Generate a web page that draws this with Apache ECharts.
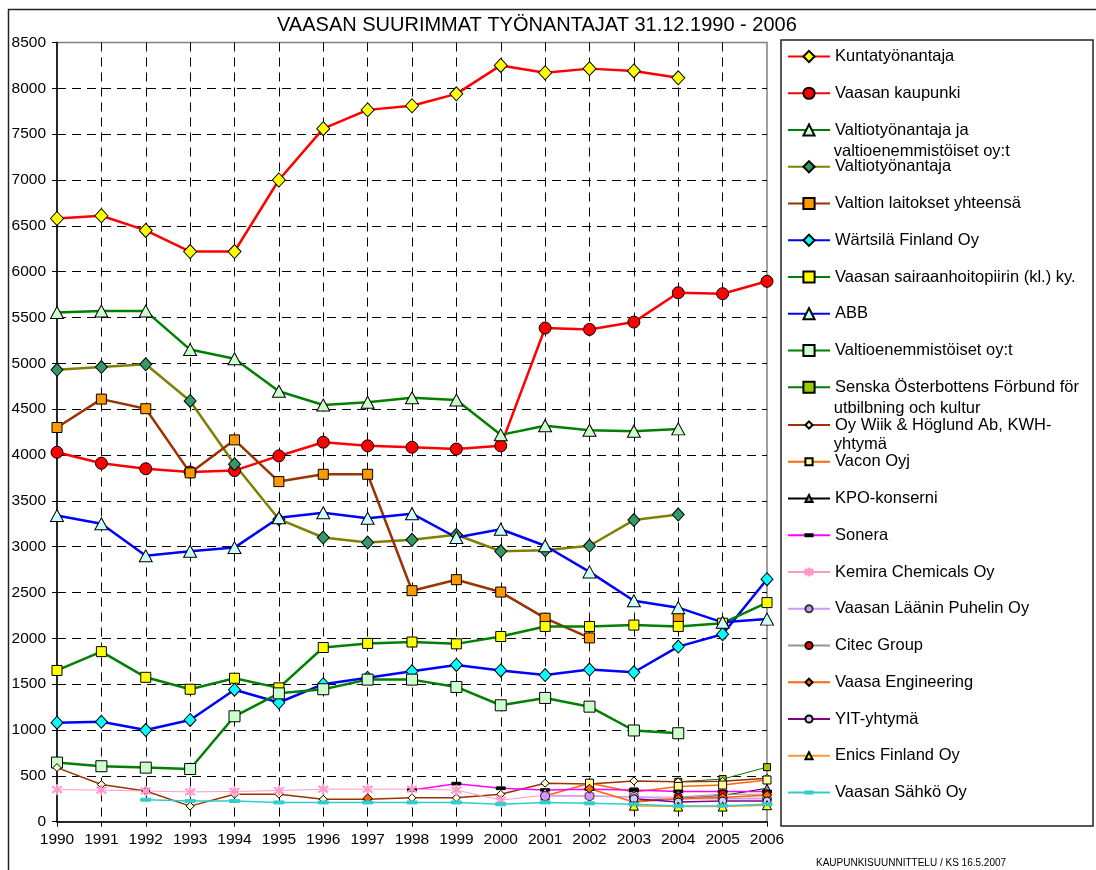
<!DOCTYPE html>
<html>
<head>
<meta charset="utf-8">
<title>Vaasan suurimmat työnantajat</title>
<script src="https://cdn.jsdelivr.net/npm/echarts@6/dist/echarts.min.js"></script>
<style>
html, body { margin: 0; padding: 0; background: #fff; }
#main { width: 1096px; height: 870px; }
</style>
</head>
<body>
<div id="main"></div>
<script>
var years = ['1990','1991','1992','1993','1994','1995','1996','1997','1998','1999','2000','2001','2002','2003','2004','2005','2006'];

// suuret työnantajat
var kuntatyonantaja     = [6580, 6610, 6450, 6220, 6220, 7000, 7560, 7765, 7810, 7940, 8250, 8170, 8215, 8190, 8115, null, null];
var vaasanKaupunki      = [4030, 3910, 3850, 3815, 3830, 3990, 4140, 4100, 4085, 4065, 4100, 5385, 5370, 5450, 5770, 5760, 5895];
var valtioJaEnemmisto   = [5555, 5570, 5570, 5150, 5050, 4695, 4545, 4575, 4625, 4600, 4220, 4320, 4270, 4260, 4285, null, null];
var valtiotyonantaja    = [4930, 4960, 4990, 4590, 3900, 3300, 3100, 3045, 3075, 3130, 2950, 2960, 3010, 3290, 3350, null, null];
var valtionLaitokset    = [4300, 4610, 4505, 3805, 4165, 3710, 3790, 3790, 2520, 2640, 2505, 2220, 2005, null, 2230, null, null];
var wartsila            = [1080, 1090, 1000, 1110, 1440, 1300, 1500, 1570, 1640, 1710, 1650, 1600, 1660, 1630, 1910, 2045, 2645];
var sairaanhoitopiiri   = [1650, 1855, 1575, 1445, 1565, 1460, 1900, 1945, 1960, 1940, 2020, 2130, 2130, 2145, 2130, 2165, 2390];
var abb                 = [3340, 3250, 2900, 2950, 2990, 3315, 3370, 3310, 3360, 3100, 3190, 3010, 2725, 2410, 2335, 2175, 2210];
var valtioenemmistoiset = [645, 605, 590, 575, 1150, 1400, 1445, 1550, 1550, 1470, 1270, 1350, 1255, 995, 965, null, null];

// pienet työnantajat
var senska           = [null, null, null, null, null, null, null, null, null, null, null, null, null, null, 435, 465, 595];
var wiik             = [590, 405, 335, 170, 300, 300, 245, 245, 260, 260, 300, 420, 410, 445, 435, 440, 475];
var vacon            = [null, null, null, null, null, null, null, null, null, null, null, 280, 420, 325, 385, 400, 455];
var kpo              = [null, null, null, null, null, null, null, null, null, null, null, null, null, 220, 255, 285, 365];
var sonera           = [null, null, null, null, null, null, null, null, 345, 415, 365, 345, 355, 345, 330, 330, 330];
var kemira           = [350, 345, 335, 325, 330, 340, 355, 355, 355, 345, 235, 290, 280, 270, 270, 270, 270];
var laaninPuhelin    = [null, null, null, null, null, null, null, null, null, null, null, 280, 280, 270, 250, 250, 250];
var citec            = [null, null, null, null, null, null, null, null, null, null, null, null, null, null, 270, 300, 300];
var vaasaEngineering = [null, null, null, null, null, null, null, 255, null, null, null, null, 360, 215, 250, 265, 290];
var yit              = [null, null, null, null, null, null, null, null, null, null, null, null, null, 250, 215, 225, 225];
var enics            = [null, null, null, null, null, null, null, null, null, null, null, null, null, 175, 165, 165, 180];
var vaasanSahko      = [null, null, 240, 225, 225, 210, 210, 210, 210, 210, 190, 210, 200, 190, 170, 175, 190];

var FONT = '"Liberation Sans", Arial, sans-serif';
var asterisk = 'path://M4.4,0L5.6,0L5.6,10L4.4,10Z M0.83,1.5L9.83,7.5L9.17,8.5L0.17,2.5Z M0.17,7.5L9.17,1.5L9.83,2.5L0.83,8.5Z';
var dash = 'path://M0,0M0,3.5L10,3.5L10,6.5L0,6.5ZM10,10';

function line(name, data, color, width, symbol, size, fill, border) {
	return {
		name: name,
		type: 'line',
		data: data,
		symbol: symbol,
		symbolSize: size,
		showAllSymbol: true,
		connectNulls: false,
		lineStyle: { color: color, width: width },
		itemStyle: { color: fill, borderColor: border || '#000', borderWidth: 1 },
		emphasis: { disabled: true },
		animation: false
	};
}

var series = [
	line('Kuntatyönantaja', kuntatyonantaja, '#FF0000', 2.5, 'diamond', [13, 14], '#FFFF00'),
	line('Vaasan kaupunki', vaasanKaupunki, '#FF0000', 2.5, 'circle', 12, '#FF0000'),
	line('Valtiotyönantaja ja', valtioJaEnemmisto, '#008000', 2.5, 'triangle', [13, 12], '#CCFFCC'),
	line('Valtiotyönantaja', valtiotyonantaja, '#808000', 2.5, 'diamond', [12, 13], '#339966'),
	line('Valtion laitokset yhteensä', valtionLaitokset, '#993300', 2.5, 'rect', 10, '#FF9900'),
	line('Wärtsilä Finland Oy', wartsila, '#0000FF', 2.5, 'diamond', [12, 13], '#00FFFF'),
	line('Vaasan sairaanhoitopiirin (kl.) ky.', sairaanhoitopiiri, '#008000', 2.5, 'rect', 10, '#FFFF00'),
	line('ABB', abb, '#0000FF', 2.5, 'triangle', [13, 12], '#CCFFFF'),
	line('Valtioenemmistöiset oy:t', valtioenemmistoiset, '#008000', 2.5, 'rect', 11, '#CCFFCC'),
	line('Senska Österbottens Förbund för', senska, '#008000', 1, 'rect', 7, '#99CC00'),
	line('Oy Wiik & Höglund Ab, KWH-', wiik, '#993300', 1.5, 'diamond', 8, '#FFFFCC'),
	line('Vacon Oyj', vacon, '#FF6600', 1.5, 'rect', 8, '#FFFF99'),
	line('KPO-konserni', kpo, '#000000', 1, 'triangle', 8, '#969696'),
	line('Sonera', sonera, '#FF00FF', 1.5, dash, 9, '#000000', '#000000'),
	line('Kemira Chemicals Oy', kemira, '#FF99CC', 1, asterisk, 10, '#FF99CC', '#FF99CC'),
	line('Vaasan Läänin Puhelin Oy', laaninPuhelin, '#CC99FF', 1.5, 'circle', 9, '#CC99FF', '#333333'),
	line('Citec Group', citec, '#969696', 1, 'circle', 8, '#FF0000'),
	line('Vaasa Engineering', vaasaEngineering, '#FF6600', 1.5, 'diamond', 9, '#FF6600'),
	line('YIT-yhtymä', yit, '#800080', 1.5, 'circle', 8, '#CCCCFF'),
	line('Enics Finland Oy', enics, '#FF9933', 1.5, 'triangle', 9, '#FFFF00'),
	line('Vaasan Sähkö Oy', vaasanSahko, '#33CCCC', 1.5, dash, 10, '#33CCCC', '#33CCCC')
];

var names = series.map(function (s) { return s.name; });

var chart = echarts.init(document.getElementById('main'));
chart.setOption({
	backgroundColor: '#fff',
	animation: false,
	title: [{
		text: 'VAASAN SUURIMMAT TYÖNANTAJAT 31.12.1990 - 2006',
		left: 277, top: 15, padding: 0,
		textStyle: { fontFamily: FONT, fontSize: 20, fontWeight: 'normal', color: '#000' }
	}, {
		text: 'KAUPUNKISUUNNITTELU / KS 16.5.2007',
		left: 816, top: 858, padding: 0,
		textStyle: { fontFamily: FONT, fontSize: 10, fontWeight: 'normal', color: '#000' }
	}],
	grid: {
		left: 57, right: 329, top: 42.5, bottom: 48.3,
		show: true, borderColor: '#808080', borderWidth: 1.5
	},
	legend: [{
		data: names.slice(0, 10),
		orient: 'vertical', left: 787, top: 48, padding: 0,
		itemWidth: 42, itemHeight: 14, itemGap: 19.75,
		selectedMode: false,
		textStyle: { fontFamily: FONT, fontSize: 16.5, color: '#000' }
	}, {
		data: names.slice(10),
		orient: 'vertical', left: 787, top: 416.5, padding: 0,
		itemWidth: 42, itemHeight: 9, itemGap: 19.75,
		selectedMode: false,
		textStyle: { fontFamily: FONT, fontSize: 16.5, color: '#000' }
	}],
	xAxis: {
		type: 'category',
		data: years,
		boundaryGap: false,
		axisLine: { lineStyle: { color: '#000', width: 1.5 } },
		axisTick: { show: true, length: 5, lineStyle: { color: '#000' } },
		axisLabel: { color: '#000', fontFamily: FONT, fontSize: 15.5, margin: 10, interval: 0 },
		splitLine: {
			show: true, showMinLine: false, showMaxLine: false,
			lineStyle: { color: '#000', width: 1, type: [9, 6] }
		}
	},
	yAxis: {
		type: 'value',
		min: 0, max: 8500, interval: 500,
		axisLine: { show: true, lineStyle: { color: '#000', width: 1.5 } },
		axisTick: { show: true, length: 5, lineStyle: { color: '#000' } },
		axisLabel: {
			color: '#000', fontFamily: FONT, fontSize: 15.5, margin: 11,
			formatter: function (v) { return String(v); }
		},
		splitLine: {
			show: true, showMinLine: false, showMaxLine: false,
			lineStyle: { color: '#000', width: 1, type: [9, 6] }
		}
	},
	graphic: [
		{ type: 'rect', silent: true, z: -10, shape: { x: 8.5, y: 9.5, width: 1200, height: 1000 }, style: { fill: null, stroke: '#222', lineWidth: 1.5 } },
		{ type: 'rect', silent: true, shape: { x: 781, y: 40, width: 312, height: 786 }, style: { fill: null, stroke: '#222', lineWidth: 1.5 } },
		{ type: 'text', silent: true, x: 833.7, y: 151, style: { text: 'valtioenemmistöiset oy:t', fontFamily: FONT, fontSize: 16.5, fill: '#000', verticalAlign: 'middle' } },
		{ type: 'text', silent: true, x: 833.7, y: 408, style: { text: 'utbilbning och kultur', fontFamily: FONT, fontSize: 16.5, fill: '#000', verticalAlign: 'middle' } },
		{ type: 'text', silent: true, x: 833.7, y: 444.5, style: { text: 'yhtymä', fontFamily: FONT, fontSize: 16.5, fill: '#000', verticalAlign: 'middle' } }
	],
	series: series
});
</script>
</body>
</html>
